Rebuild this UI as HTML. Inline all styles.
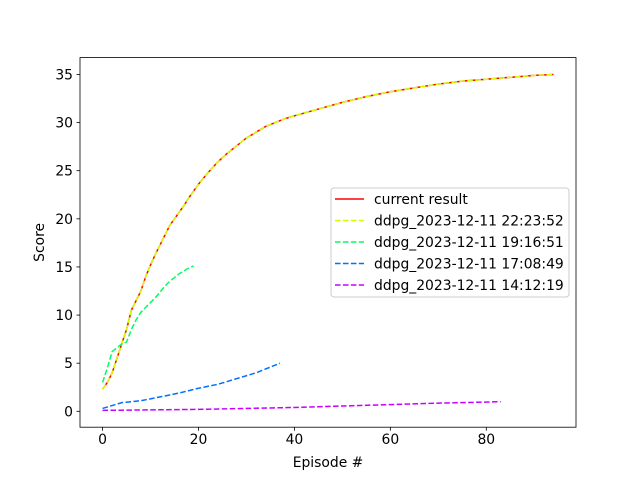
<!DOCTYPE html>
<html><head><meta charset="utf-8"><style>
body{margin:0;background:#fff}
svg text{font-family:"DejaVu Sans","Liberation Sans",sans-serif;fill:#000}
</style></head><body>
<svg id="chart" width="640" height="480" xmlns="http://www.w3.org/2000/svg">
<rect width="640" height="480" fill="#fff"/>
<g id="plot"></g>
<g id="axes"></g>
<g id="legend"></g>
</svg>
<script>
const currentX=[0,1,2,3,4,5,6,7,8,9,10,11,12,13,14,15,16,17,18,19,20,22,24,26,28,30,32,34,36,38,40,45,50,55,60,65,70,75,80,85,90,94];
const currentY=[2.3,3,4,5.5,7,8.5,10.5,11.5,12.5,14,15.2,16.3,17.3,18.3,19.3,20,20.7,21.4,22.2,22.9,23.6,24.8,25.9,26.8,27.6,28.4,29.0,29.6,30.0,30.4,30.7,31.4,32.1,32.7,33.2,33.6,34.0,34.3,34.5,34.7,34.9,35];
const greenX=[0,1,2,3,4,5,6,7,8,9,10,11,12,13,14,15,16,17,18,19];
const greenY=[3,4.5,6.2,6.6,7.0,7.2,8.5,9.5,10.3,10.8,11.3,11.8,12.4,13.0,13.5,13.9,14.3,14.6,14.9,15.1];
const blueX=[0,2,4,8,12,16,20,24,28,32,35,37];
const blueY=[0.3,0.6,0.9,1.1,1.5,1.9,2.4,2.8,3.4,4.0,4.6,5.0];
const purpleX=[0,10,20,30,40,50,60,70,83];
const purpleY=[0.1,0.15,0.2,0.3,0.4,0.55,0.7,0.85,1.0];
const xTicks=[0,20,40,60,80];
const yTicks=[0,5,10,15,20,25,30,35];
const legendLabels=["current result","ddpg_2023-12-11 22:23:52","ddpg_2023-12-11 19:16:51","ddpg_2023-12-11 17:08:49","ddpg_2023-12-11 14:12:19"];

const NS="http://www.w3.org/2000/svg";
const L=80,R=576,T=57.6,B=427.2;
const xmin=-4.7,xmax=98.7,ymin=-1.65,ymax=36.75;
const FS='13.9';
const sx=v=>L+(v-xmin)/(xmax-xmin)*(R-L);
const sy=v=>B-(v-ymin)/(ymax-ymin)*(B-T);
function mk(tag,attrs,parent){const e=document.createElementNS(NS,tag);for(const k in attrs)e.setAttribute(k,attrs[k]);parent.appendChild(e);return e;}
const plot=document.getElementById('plot'),axes=document.getElementById('axes'),leg=document.getElementById('legend');
function pts(xs,ys){return xs.map((x,i)=>sx(x).toFixed(2)+','+sy(ys[i]).toFixed(2)).join(' ');}
const series=[
 {xs:currentX,ys:currentY,c:'#ff0000',dash:null,n:'current-result-line'},
 {xs:currentX,ys:currentY,c:'#d4ff00',dash:'5.55,2.4',n:'run-2223-line'},
 {xs:greenX,ys:greenY,c:'#00ff5e',dash:'5.55,2.4',n:'run-1916-line'},
 {xs:blueX,ys:blueY,c:'#0070ff',dash:'5.55,2.4',n:'run-1708-line'},
 {xs:purpleX,ys:purpleY,c:'#c800ff',dash:'5.55,2.4',n:'run-1412-line'}];
series.forEach(s=>{
 const p=mk('polyline',{points:pts(s.xs,s.ys),fill:'none',stroke:s.c,'stroke-width':1.5},plot);
 if(s.dash)p.setAttribute('stroke-dasharray',s.dash);
 
 
});
const frame=mk('rect',{x:L,y:T,width:R-L,height:B-T,fill:'none',stroke:'#000','stroke-width':0.8},axes);


xTicks.forEach(t=>{
 mk('line',{x1:sx(t),x2:sx(t),y1:B,y2:B+3.5,stroke:'#000','stroke-width':0.8},axes);
 const tx=mk('text',{x:sx(t),y:B+17,'font-size':FS,'text-anchor':'middle'},axes);tx.textContent=t;
 
 
});
yTicks.forEach(t=>{
 mk('line',{x1:L-3.5,x2:L,y1:sy(t),y2:sy(t),stroke:'#000','stroke-width':0.8},axes);
 const tx=mk('text',{x:L-7,y:sy(t)+5,'font-size':FS,'text-anchor':'end'},axes);tx.textContent=t;
 
 
});
const xl=mk('text',{x:(L+R)/2,y:467,'font-size':FS,'text-anchor':'middle'},axes);xl.textContent='Episode #';


const yl=mk('text',{x:0,y:0,'font-size':FS,'text-anchor':'middle',transform:`translate(44,${(T+B)/2}) rotate(-90)`},axes);yl.textContent='Score';


const box=mk('rect',{x:331,y:188,width:238,height:109,rx:3,fill:'#fff','fill-opacity':0.8,stroke:'#ccc','stroke-width':1},leg);


legendLabels.forEach((lab,i)=>{
 const y=199+i*21.5;
 const g=mk('g',{},leg);
 
 
 const ln=mk('line',{x1:335,x2:364,y1:y,y2:y,stroke:series[i].c,'stroke-width':1.5},g);
 if(series[i].dash)ln.setAttribute('stroke-dasharray',series[i].dash);
 const t=mk('text',{x:374,y:y+5,'font-size':FS},g);t.textContent=lab;
});
</script>
</body></html>
